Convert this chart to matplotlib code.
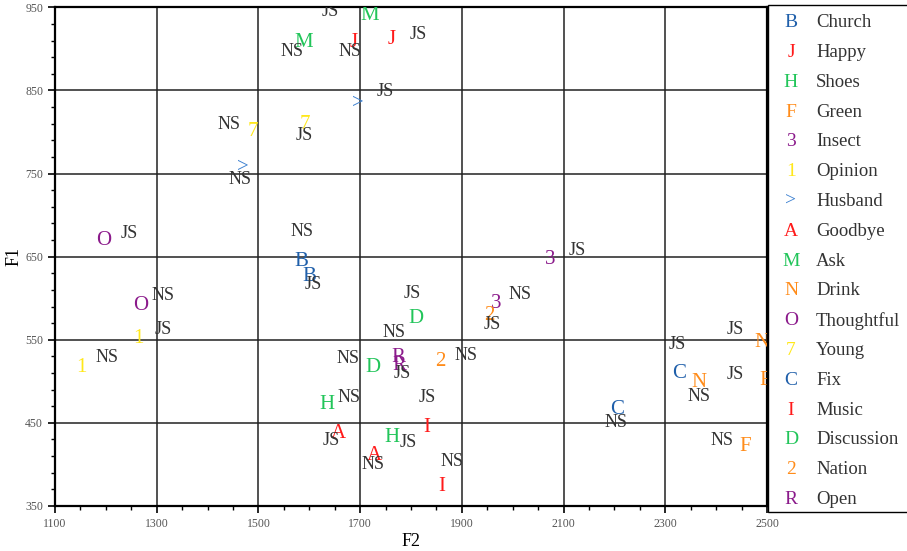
import numpy as np
import matplotlib.pyplot as plt
from matplotlib.patches import Rectangle

# words, plot symbols and colours (legend order)
words = ['Church', 'Happy', 'Shoes', 'Green', 'Insect', 'Opinion', 'Husband', 'Goodbye', 'Ask',
         'Drink', 'Thoughtful', 'Young', 'Fix', 'Music', 'Discussion', 'Nation', 'Open']
symbols = ['B', 'J', 'H', 'F', '3', '1', '>', 'A', 'M', 'N', 'O', '7', 'C', 'I', 'D', '2', 'R']
colors = ['#1f5faa', '#ff1a1a', '#22c55a', '#ff8c1a', '#8b1a8b', '#ffe81a', '#3a7fd0', '#ff1a1a',
          '#22c55a', '#ff8c1a', '#8b1a8b', '#ffe81a', '#1f5faa', '#ff1a1a', '#22c55a', '#ff8c1a',
          '#8b1a8b']

# speaker JS formants
js_f2 = [1600, 1762, 1762, 2496, 2073, 1263, 1696, 1657, 1719, 2491, 1195, 1592, 2327, 1831, 1809, 1954, 1778]
js_f1 = [626, 911, 432, 501, 647, 551, 834, 437, 940, 547, 670, 809, 510, 444, 576, 579, 519]
# speaker NS formants
ns_f2 = [1584, 1688, 1634, 2457, 1968, 1152, 1469, 1729, 1590, 2367, 1268, 1489, 2205, 1860, 1726, 1857, 1776]
ns_f1 = [644, 908, 472, 422, 594, 517, 757, 411, 908, 498, 591, 801, 466, 374, 517, 524, 529]

# where the speaker tags were written (F2, F1)
js_tag_f2 = [1608, 1814, 1795, 2438, 2127, 1313, 1749, 1644, 1641, 2437, 1247, 1590, 2323, 1832, 1802, 1960, 1782]
js_tag_f1 = [616, 917, 426, 508, 658, 562, 849, 429, 945, 562, 678, 796, 544, 480, 606, 568, 509]
ns_tag_f2 = [1585, 1680, 1678, 2411, 2014, 1202, 1464, 1725, 1567, 2366, 1313, 1443, 2204, 1881, 1677, 1909, 1767]
ns_tag_f1 = [680, 897, 480, 429, 605, 529, 743, 400, 897, 482, 603, 809, 450, 404, 527, 531, 559]

plt.rcParams['font.family'] = ['Liberation Serif', 'DejaVu Serif']

fig = plt.figure(figsize=(9.07, 5.51), dpi=100)
ax = fig.add_axes([0.0606, 0.0817, 0.785, 0.905])
ax.set_xlim(1100, 2500)
ax.set_ylim(350, 950)
ax.set_xticks(np.arange(1100, 2501, 200))
ax.set_xticks(np.arange(1100, 2501, 50), minor=True)
ax.set_yticks(np.arange(350, 951, 100))
ax.set_yticks(np.arange(350, 951, 20), minor=True)
ax.grid(True, which='major', color='#222222', linewidth=1.1)
ax.set_axisbelow(True)
ax.tick_params(which='major', direction='out', length=5, width=1.2, labelsize=8.5, labelcolor='#555555')
ax.tick_params(which='minor', direction='out', length=3, width=1.0)
for s in ax.spines.values():
    s.set_linewidth(1.6)
    s.set_color('black')

for i in range(len(words)):
    for f2, f1 in [(js_f2[i], js_f1[i]), (ns_f2[i], ns_f1[i])]:
        ax.text(f2, f1, symbols[i], color=colors[i], fontsize=15, ha='center', va='center', clip_on=True)
    ax.text(js_tag_f2[i], js_tag_f1[i], 'JS', color='#333333', fontsize=13, ha='center', va='center', clip_on=True)
    ax.text(ns_tag_f2[i], ns_tag_f1[i], 'NS', color='#333333', fontsize=13, ha='center', va='center', clip_on=True)

ax.set_xlabel('F2', fontsize=13, labelpad=2)
ax.set_ylabel('F1', fontsize=13, labelpad=2)

# legend box drawn at the right edge
W, H = 907.0, 551.0
fig.patches.append(Rectangle((768 / W, 1 - 512 / H), 0.2, (512 - 5) / H, transform=fig.transFigure,
                             facecolor='white', edgecolor='black', linewidth=1.0))
for i in range(len(words)):
    yy = 1 - (22.7 + i * 29.8) / H
    fig.text(791 / W, yy, symbols[i], color=colors[i], fontsize=14, ha='center', va='center')
    fig.text(816 / W, yy, words[i], color='#333333', fontsize=13.5, ha='left', va='center')

plt.savefig('out.png', dpi=100)
plt.close()
